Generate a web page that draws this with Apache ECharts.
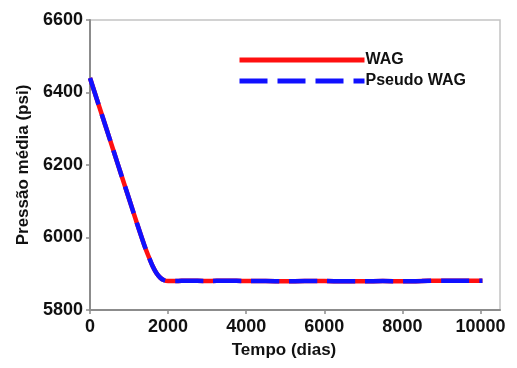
<!DOCTYPE html>
<html><head><meta charset="utf-8">
<script src="https://cdn.jsdelivr.net/npm/echarts@6/dist/echarts.min.js"></script>
<style>html,body{margin:0;padding:0;background:#fff}#c{width:517px;height:368px}</style>
</head><body><div id="c"></div>
<script>
const days = [0,200,400,600,800,1000,1200,1400,1500,1600,1700,1800,1900,2000,2200,2500,3000,3500,4000,4500,5000,5500,6000,6500,7000,7500,8000,8500,9000,9500,10050];
const wag = [6440,6373,6307,6240,6173,6107,6040,5976,5948,5922,5902,5889,5882,5880,5880,5881,5880,5881,5880,5880,5879,5880,5880,5879,5879,5880,5879,5880,5881,5881,5881];
const pseudoWag = [6440,6373,6307,6240,6173,6107,6040,5976,5948,5922,5902,5889,5882,5880,5880,5881,5880,5881,5880,5880,5879,5880,5880,5879,5879,5880,5879,5880,5881,5881,5881];
const xTicks = [0,2000,4000,6000,8000,10000];
const yTicks = [5800,6000,6200,6400,6600];
const seriesNames = ['WAG','Pseudo WAG'];

const font = 'Liberation Sans, Arial, sans-serif';
const chart = echarts.init(document.getElementById('c'));
chart.setOption({
  animation:false,
  grid:{left:90,top:20,right:17,bottom:58,show:true,borderColor:'#c4c4c4',borderWidth:1.5,backgroundColor:'#fff'},
  legend:{
    orient:'vertical',left:237,top:52,padding:0,itemWidth:125,itemHeight:8,itemGap:5,
    itemStyle:{opacity:0},
    lineStyle:{width:5},
    textStyle:{fontFamily:font,fontWeight:'bold',fontSize:16,color:'#111',padding:[0,0,0,-4]},
    data:seriesNames
  },
  xAxis:{
    type:'value',min:0,max:10500,
    name:'Tempo (dias)',nameLocation:'middle',nameGap:32,
    nameTextStyle:{fontFamily:font,fontWeight:'bold',fontSize:17,color:'#111',padding:[0,22,0,0]},
    axisLine:{lineStyle:{color:'#8c8c8c',width:2}},
    axisTick:{show:true,length:4,lineStyle:{color:'#8c8c8c',width:1.5},customValues:xTicks},
    axisLabel:{fontFamily:font,fontWeight:'bold',fontSize:18,color:'#111',margin:8,customValues:xTicks,formatter:v=>String(v)},
    splitLine:{show:false}
  },
  yAxis:{
    type:'value',min:5800,max:6600,interval:200,
    name:'Pressão média (psi)',nameLocation:'middle',nameGap:57,
    nameTextStyle:{fontFamily:font,fontWeight:'bold',fontSize:17,color:'#111'},
    axisLine:{show:true,lineStyle:{color:'#8c8c8c',width:2}},
    axisTick:{show:true,length:4,lineStyle:{color:'#8c8c8c',width:1.5}},
    axisLabel:{fontFamily:font,fontWeight:'bold',fontSize:18,color:'#111',margin:7,formatter:v=>String(v)},
    splitLine:{show:false}
  },
  series:[
    {name:seriesNames[0],type:'line',symbol:'none',smooth:0.3,
     data:days.map((d,i)=>[d,wag[i]]),
     lineStyle:{color:'#ff1010',width:4.5,type:'solid'},itemStyle:{color:'#ff1010'}},
    {name:seriesNames[1],type:'line',symbol:'none',smooth:0.3,
     data:days.map((d,i)=>[d,pseudoWag[i]]),
     lineStyle:{color:'#1010ff',width:4.5,type:[28,10]},itemStyle:{color:'#1010ff'}}
  ]
});
</script></body></html>
